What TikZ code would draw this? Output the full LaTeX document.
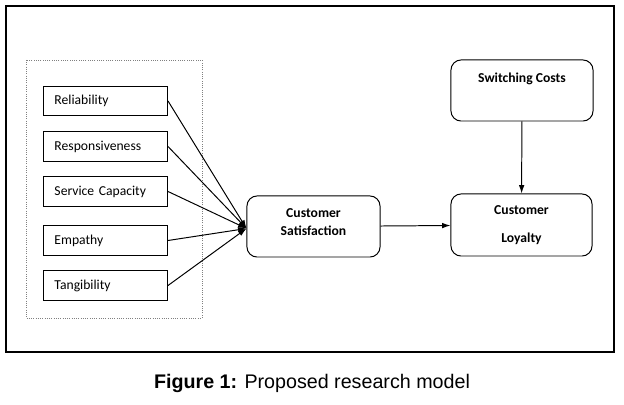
\documentclass[tikz,border=0pt]{standalone}
\usepackage{fontspec}
\setmainfont{Carlito}
\newfontfamily\capfont{Liberation Sans}
\usetikzlibrary{positioning,arrows.meta}
\tikzset{
  dimbox/.style={draw,rectangle,line width=0.7pt,minimum width=3.1cm,minimum height=0.73cm,
    inner xsep=6pt,align=left,font=\fontsize{9.7}{11}\selectfont},
  bigbox/.style={draw,rectangle,rounded corners=0.25cm,line width=0.7pt,align=center,
    font=\bfseries\fontsize{9.7}{12.8}\selectfont},
  link/.style={line width=0.7pt,-{Latex[length=6pt,width=4pt]}}
}
\begin{document}
\begin{tikzpicture}[x=0.025cm,y=-0.025cm]
\useasboundingbox (0,0) rectangle (624,405);
\draw[line width=2pt] (6,6) rectangle (614,352);
\draw[gray,densely dotted,line width=0.6pt] (26,60) rectangle (202,318);
% quality dimensions
\node[dimbox,anchor=west,text width=2.55cm] (rel) at (43,101) {Reliability};
\node[dimbox,anchor=west,text width=2.55cm] (resp) at (43,146.5) {Responsiveness};
\node[dimbox,anchor=west,text width=2.55cm] (cap) at (43,191.5) {Service Capacity};
\node[dimbox,anchor=west,text width=2.55cm] (emp) at (43,240.5) {Empathy};
\node[dimbox,anchor=west,text width=2.55cm] (tan) at (43,285.5) {Tangibility};
% outcomes
\node[bigbox,minimum width=3.325cm,minimum height=1.525cm,text depth=0.22cm] (sat) at (313.5,226.5) {Customer\\Satisfaction};
\node[bigbox,minimum width=3.525cm,minimum height=1.55cm,font=\bfseries\fontsize{9.7}{20}\selectfont] (loy) at (521.5,225) {Customer\\Loyalty};
\node[bigbox,minimum width=3.55cm,minimum height=1.525cm,
  label={[font=\bfseries\fontsize{9.7}{11}\selectfont,anchor=north,yshift=-0.2cm]north:Switching Costs}] (sw) at (522,90.5) {};
\foreach \d in {rel,resp,cap,emp,tan}
  \draw[link] (\d.east) -- ([yshift=-0.05cm]sat.west);
\draw[link] (sat) -- (loy);
\draw[link] (sw) -- (loy);
\node[font=\capfont\fontsize{14}{16}\selectfont] (cap1) at (312,383) {\textbf{Figure 1:} Proposed research model};
\end{tikzpicture}
\end{document}
